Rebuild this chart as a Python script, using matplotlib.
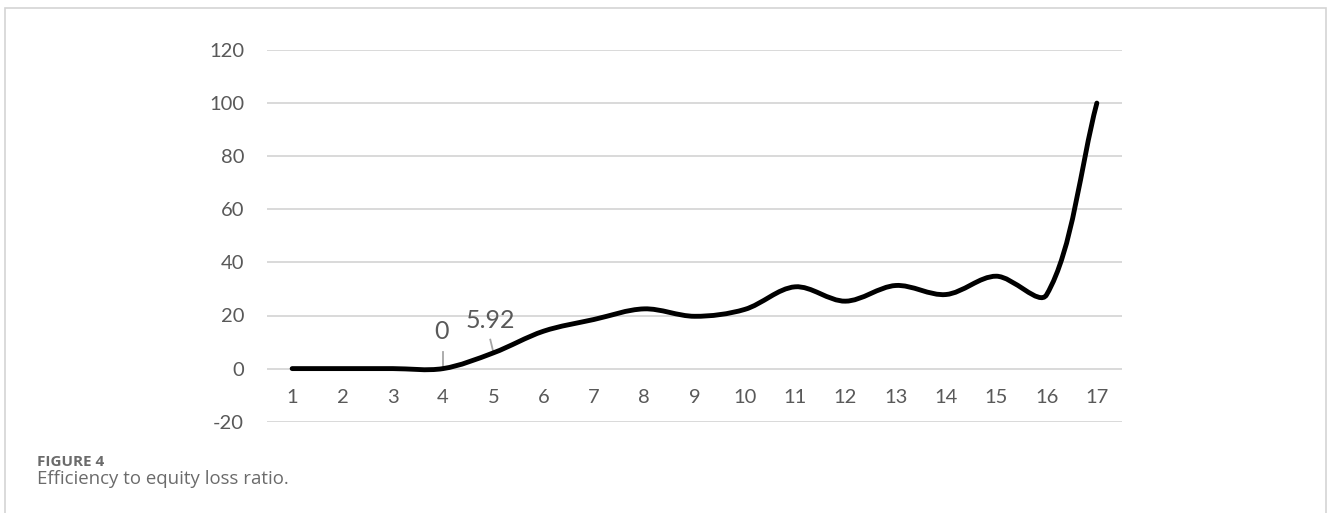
import matplotlib
matplotlib.use("Agg")
import matplotlib.pyplot as plt
import numpy as np
from matplotlib.path import Path
from matplotlib.patches import PathPatch, Rectangle

# ---- data ----
categories = list(range(1, 18))
values = [0, 0, 0, 0, 5.92, 14.1, 18.5, 22.5, 19.7, 22.3, 30.8, 25.4, 31.3, 27.9, 34.8, 27.8, 100]
y_ticks = [-20, 0, 20, 40, 60, 80, 100, 120]
labelled = {4: "0", 5: "5.92"}

W, H = 1328, 513
fig = plt.figure(figsize=(W / 100, H / 100), dpi=100)
fig.patch.set_facecolor("white")

ax_left, ax_right = 267 / W, 1122 / W
ax_top, ax_bot = 1 - 50 / H, 1 - 421.7 / H
ax = fig.add_axes([ax_left, ax_bot, ax_right - ax_left, ax_top - ax_bot])
ax.set_xlim(0.5, 17.5)
ax.set_ylim(-20, 120)
for s in ax.spines.values():
    s.set_visible(False)

tick_font = ["Lato", "DejaVu Sans"]
ax.set_yticks(y_ticks)
ax.set_yticklabels([str(v) for v in y_ticks])
ax.tick_params(axis="y", length=0, pad=16.5, labelsize=14.5, labelcolor="#595959")
ax.yaxis.grid(True, color="#d9d9d9", linewidth=1.4)
ax.set_axisbelow(True)

ax.spines["bottom"].set_position(("data", 0))
ax.set_xticks(categories)
ax.set_xticklabels([str(c) for c in categories])
ax.tick_params(axis="x", length=0, pad=15.0, labelsize=14.5, labelcolor="#595959")
for lab in ax.get_xticklabels() + ax.get_yticklabels():
    lab.set_family(tick_font)

# ---- smoothed line (Excel-like Bezier) ----
xs = np.array(categories, dtype=float)
ys = np.array(values, dtype=float)
pix = ax.transData.transform(np.column_stack([xs, ys]))
n = len(xs)
verts = [(xs[0], ys[0])]
codes = [Path.MOVETO]
def ctrl(i):
    p_prev = pix[max(i - 1, 0)]
    p_next = pix[min(i + 1, n - 1)]
    d1 = np.hypot(*(pix[i] - p_prev))
    d2 = np.hypot(*(p_next - pix[i]))
    tot = d1 + d2 if d1 + d2 > 0 else 1
    T = p_next - p_prev
    c_in = pix[i] - T * (d1 / tot) / 3.0
    c_out = pix[i] + T * (d2 / tot) / 3.0
    return c_in, c_out
inv = ax.transData.inverted()
for i in range(n - 1):
    _, c1 = ctrl(i)
    c2, _ = ctrl(i + 1)
    c1d, c2d = inv.transform([c1, c2])
    verts += [tuple(c1d), tuple(c2d), (xs[i + 1], ys[i + 1])]
    codes += [Path.CURVE4] * 3
patch = PathPatch(Path(verts, codes), facecolor="none", edgecolor="black",
                  linewidth=3.5, capstyle="round", joinstyle="round", zorder=3)
ax.add_patch(patch)

# ---- data labels with leader lines ----
lab_font = ["Lato", "DejaVu Sans"]
ax.text(3.97, 14.0, labelled[4], ha="center", va="center", fontsize=18,
        color="#595959", family=lab_font)
ax.plot([4.0, 4.0], [0.4, 6.4], color="#a6a6a6", lw=1.3, zorder=2)
ax.text(4.94, 18.3, labelled[5], ha="center", va="center", fontsize=18,
        color="#595959", family=lab_font)
ax.plot([4.94, 5.0], [10.9, 6.2], color="#a6a6a6", lw=1.3, zorder=2)

# ---- frame around figure ----
fig.add_artist(Rectangle((4.5 / W, -0.1), (1326 - 4.5) / W, 1 - 8.5 / H + 0.1,
                         transform=fig.transFigure, fill=False,
                         edgecolor="#d4d4d4", linewidth=1.2))

# ---- caption ----
fig.text(37 / W, 1 - 462 / H, "FIGURE 4", fontsize=11, fontweight="bold",
         color="#6b6b6b", va="center", ha="left", family=["Open Sans", "DejaVu Sans"])
fig.text(37 / W, 1 - 479.5 / H, "Efficiency to equity loss ratio.", fontsize=13.4,
         color="#6b6b6b", va="center", ha="left", family=["Open Sans", "DejaVu Sans"])

fig.savefig("out.png", dpi=100, facecolor="white")
